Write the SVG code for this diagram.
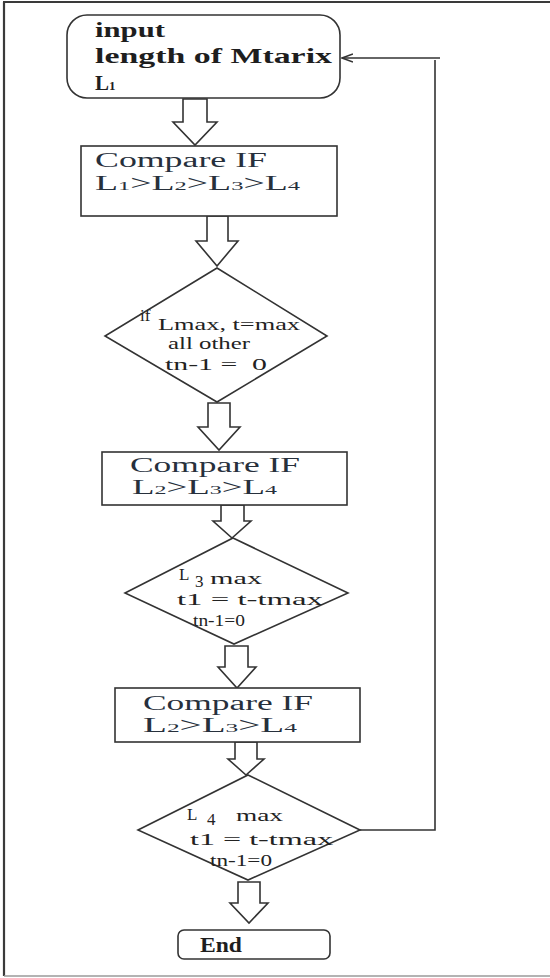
<svg xmlns="http://www.w3.org/2000/svg" width="550" height="978" viewBox="0 0 550 978">
  <defs>
    <marker id="open-head" viewBox="0 0 12 10" refX="11" refY="5" markerWidth="12" markerHeight="10" markerUnits="userSpaceOnUse" orient="auto">
      <path d="M0,1 L11,5 L0,9" fill="none" stroke="#333" stroke-width="1.6"/>
    </marker>
  </defs>
  <style>
    .shape { fill: #fff; stroke: #333; stroke-width: 1.6; }
    .flow { fill: #fff; stroke: #333; stroke-width: 1.6; stroke-linejoin: miter; }
    .link { fill: none; stroke: #333; stroke-width: 1.6; }
    .frame { fill: none; stroke: #3a3a3a; stroke-width: 2.2; }
    .t-in { font-family: "Liberation Serif", "DejaVu Serif", serif; font-weight: bold; font-size: 21px; fill: #1e1e1e; }
    .t-cmp { font-family: "Liberation Serif", "DejaVu Serif", serif; font-size: 20px; fill: #27303c; }
    .t-dec { font-family: "Liberation Serif", "DejaVu Serif", serif; font-size: 17px; fill: #222; }
    .t-sub { font-size: 13px; }
  </style>

  <rect width="550" height="978" fill="#fff"/>

  <!-- page frame -->
  <g id="frame">
    <line class="frame" x1="3" y1="2" x2="550" y2="2"/>
    <line class="frame" x1="4" y1="2" x2="4" y2="976"/>
    <line x1="4" y1="976" x2="550" y2="976" stroke="#9a9a9a" stroke-width="1.5"/>
  </g>

  <!-- connectors: hollow block arrows and the feedback loop -->
  <g id="connectors">
    <path class="flow" d="M183,99 H207 V122 H217 L195,145 L173,122 H183 Z"/>
    <path class="flow" d="M207,216 H228 V241 H238 L217,266 L196,241 H207 Z"/>
    <path class="flow" d="M208,403 H230 V427 H240 L219,450 L198,427 H208 Z"/>
    <path class="flow" d="M221,505 H244 V521 H251 L232,538 L213,521 H221 Z"/>
    <path class="flow" d="M225,646 H248 V667 H256 L237,688 L218,667 H225 Z"/>
    <path class="flow" d="M235,742 H257 V759 H264 L246,775 L228,759 H235 Z"/>
    <path class="flow" d="M238,882 H260 V903 H268 L249,923 L230,903 H238 Z"/>
    <polyline class="link" points="360,830 435,830 435,60"/>
    <line class="link" x1="440" y1="58" x2="342" y2="58" marker-end="url(#open-head)"/>
  </g>

  <g id="input">
    <rect class="shape" x="67" y="15" width="273" height="83" rx="20"/>
    <text class="t-in" x="95" y="37" textLength="70" lengthAdjust="spacingAndGlyphs">input</text>
    <text class="t-in" x="95" y="63" textLength="237" lengthAdjust="spacingAndGlyphs">length of Mtarix</text>
    <text class="t-in" x="95" y="90">L<tspan class="t-sub">1</tspan></text>
  </g>

  <g id="compare1">
    <rect class="shape" x="81" y="146" width="256" height="70"/>
    <text class="t-cmp" x="95" y="167" textLength="172" lengthAdjust="spacingAndGlyphs">Compare IF</text>
    <text class="t-cmp" x="95" y="190" textLength="205" lengthAdjust="spacingAndGlyphs">L<tspan class="t-sub">1</tspan>&gt;L<tspan class="t-sub">2</tspan>&gt;L<tspan class="t-sub">3</tspan>&gt;L<tspan class="t-sub">4</tspan></text>
  </g>

  <g id="decision1">
    <polygon class="shape" points="217,268 327,336 217,402 105,336"/>
    <text class="t-dec" x="140" y="321" font-size="10">if</text>
    <text class="t-dec" x="158" y="330" textLength="142" lengthAdjust="spacingAndGlyphs">Lmax, t=max</text>
    <text class="t-dec" x="168" y="349" textLength="82" lengthAdjust="spacingAndGlyphs">all other</text>
    <text class="t-dec" x="165" y="370" textLength="102" lengthAdjust="spacingAndGlyphs" xml:space="preserve">tn-1 =  0</text>
  </g>

  <g id="compare2">
    <rect class="shape" x="102" y="452" width="245" height="53"/>
    <text class="t-cmp" x="130" y="472" textLength="170" lengthAdjust="spacingAndGlyphs">Compare IF</text>
    <text class="t-cmp" x="132" y="494" textLength="145" lengthAdjust="spacingAndGlyphs">L<tspan class="t-sub">2</tspan>&gt;L<tspan class="t-sub">3</tspan>&gt;L<tspan class="t-sub">4</tspan></text>
  </g>

  <g id="decision2">
    <polygon class="shape" points="233,538 348,593 234,644 125,593"/>
    <text class="t-dec" x="179" y="580" font-size="20">L</text>
    <text class="t-dec" x="195" y="587" font-size="13">3</text>
    <text class="t-dec" x="210" y="584" textLength="52" lengthAdjust="spacingAndGlyphs">max</text>
    <text class="t-dec" x="177" y="605" textLength="146" lengthAdjust="spacingAndGlyphs">t1 = t-tmax</text>
    <text class="t-dec" x="193" y="626" textLength="52" lengthAdjust="spacingAndGlyphs">tn-1=0</text>
  </g>

  <g id="compare3">
    <rect class="shape" x="115" y="688" width="245" height="54"/>
    <text class="t-cmp" x="143" y="710" textLength="170" lengthAdjust="spacingAndGlyphs">Compare IF</text>
    <text class="t-cmp" x="143" y="732" textLength="154" lengthAdjust="spacingAndGlyphs">L<tspan class="t-sub">2</tspan>&gt;L<tspan class="t-sub">3</tspan>&gt;L<tspan class="t-sub">4</tspan></text>
  </g>

  <g id="decision3">
    <polygon class="shape" points="248,775 360,830 248,880 138,830"/>
    <text class="t-dec" x="187" y="820" font-size="20">L</text>
    <text class="t-dec" x="207" y="825" font-size="13">4</text>
    <text class="t-dec" x="236" y="821" textLength="47" lengthAdjust="spacingAndGlyphs">max</text>
    <text class="t-dec" x="190" y="845" textLength="143" lengthAdjust="spacingAndGlyphs">t1 = t-tmax</text>
    <text class="t-dec" x="210" y="866" textLength="62" lengthAdjust="spacingAndGlyphs">tn-1=0</text>
  </g>

  <g id="end">
    <rect class="shape" x="178" y="930" width="152" height="29" rx="6"/>
    <text class="t-in" x="200" y="952" font-size="17" textLength="42" lengthAdjust="spacingAndGlyphs">End</text>
  </g>
</svg>
